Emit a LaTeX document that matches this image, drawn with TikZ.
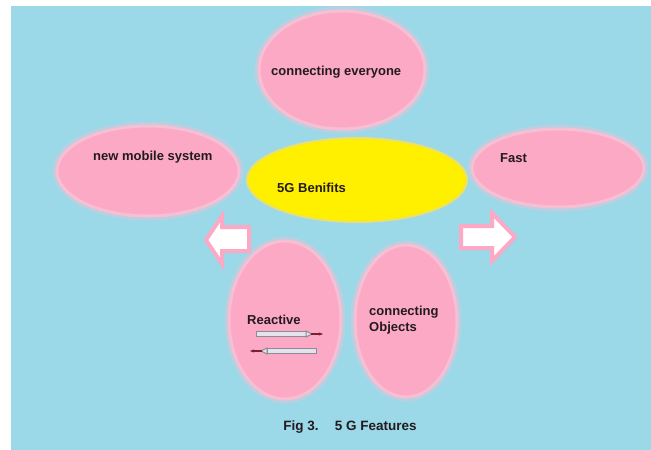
\documentclass[tikz,border=0pt]{standalone}
\usepackage{fontspec}
\setmainfont{Liberation Sans}
\usetikzlibrary{shapes.geometric,arrows.meta,calc}
\definecolor{bgblue}{HTML}{9BD8E8}
\definecolor{pinkf}{HTML}{FBA9C5}
\definecolor{pinkh}{HTML}{F7BFD3}
\definecolor{yel}{HTML}{FFF000}
\definecolor{yelh}{HTML}{E8E070}
\definecolor{txt}{HTML}{231A20}
\definecolor{barline}{HTML}{8C8C96}
\definecolor{barfill}{HTML}{E4E2EA}
\definecolor{tipcol}{HTML}{7A2030}
\tikzset{
  bubble/.style={ellipse, fill=pinkf, draw=pinkh, line width=3pt, inner sep=0pt},
  halo/.style={ellipse, draw=pinkh, line width=7pt, opacity=0.35, inner sep=0pt},
  lbl/.style={font=\fontsize{13}{15}\selectfont\bfseries, text=txt, inner sep=0pt, align=left},
  blockarrow/.style={fill=white, draw=pinkf, line width=4pt, line join=miter},
  bar/.style={fill=barfill, draw=barline, line width=1pt}
}
\begin{document}
\begin{tikzpicture}[x=1pt,y=-1pt]
\useasboundingbox (0,0) rectangle (651,450);
\fill[bgblue] (11,6) rectangle (651,450);
% halos
\node[halo, minimum width=168pt, minimum height=120pt] at (342,70) {};
\node[halo, minimum width=184pt, minimum height=92pt] at (148,171) {};
\node[halo, minimum width=174pt, minimum height=80pt] at (558,168) {};
\node[halo, minimum width=114pt, minimum height=160pt] at (285,320) {};
\node[halo, minimum width=104pt, minimum height=154pt] at (406,321) {};
% bubbles
\node[bubble, minimum width=166pt, minimum height=118pt] (everyone) at (342,70) {};
\node[bubble, minimum width=182pt, minimum height=90pt] (mobile) at (148,171) {};
\node[bubble, minimum width=172pt, minimum height=78pt] (fast) at (558,168) {};
\node[bubble, minimum width=112pt, minimum height=158pt] (reactive) at (285,320) {};
\node[bubble, minimum width=102pt, minimum height=152pt] (objects) at (406,321) {};
\node[ellipse, fill=yel, draw=yelh, line width=2pt, inner sep=0pt,
      minimum width=220pt, minimum height=84pt] (benefits) at (357,180) {};
% labels
\node[lbl, anchor=west] (tEveryone) at (271,72) {connecting everyone};
\node[lbl, anchor=west] (tMobile) at (93,157) {new mobile system};
\node[lbl, anchor=west] (tFast) at (500,158) {Fast};
\node[lbl, anchor=west] (tBen) at (277,188) {5G Benifits};
\node[lbl, anchor=west] (tReactive) at (247,320) {Reactive};
\node[lbl, anchor=west, font=\fontsize{13}{16}\selectfont\bfseries] (tObjects) at (369,320) {connecting\\Objects};
% block arrows
\draw[blockarrow] (249,227) -- (222,227) -- (222,216) -- (206,240) -- (222,264) -- (222,251) -- (249,251) -- cycle;
\draw[blockarrow] (461,226) -- (492,226) -- (492,213) -- (515,237) -- (492,261) -- (492,248) -- (461,248) -- cycle;
% small arrows inside Reactive
\coordinate (r1a) at (256,334);
\coordinate (r1b) at (323,334);
\coordinate (r2a) at (316,351);
\coordinate (r2b) at (250,351);
\draw[bar] (256,331.5) rectangle (306,336.5);
\draw[bar] (306,331) -- (306,337) -- (312,334) -- cycle;
\draw[tipcol, line width=1.2pt, -{Stealth[length=4pt,width=3pt]}] (311,334) -- (r1b);
\draw[bar] (316,348.5) rectangle (267,353.5);
\draw[bar] (267,348) -- (267,354) -- (261,351) -- cycle;
\draw[tipcol, line width=1.2pt, -{Stealth[length=4pt,width=3pt]}] (262,351) -- (r2b);
% caption
\node[lbl, font=\fontsize{13.5}{15}\selectfont\bfseries] (caption) at (350,427) {Fig 3.\hspace{1.2em}5 G Features};
\end{tikzpicture}
\end{document}
